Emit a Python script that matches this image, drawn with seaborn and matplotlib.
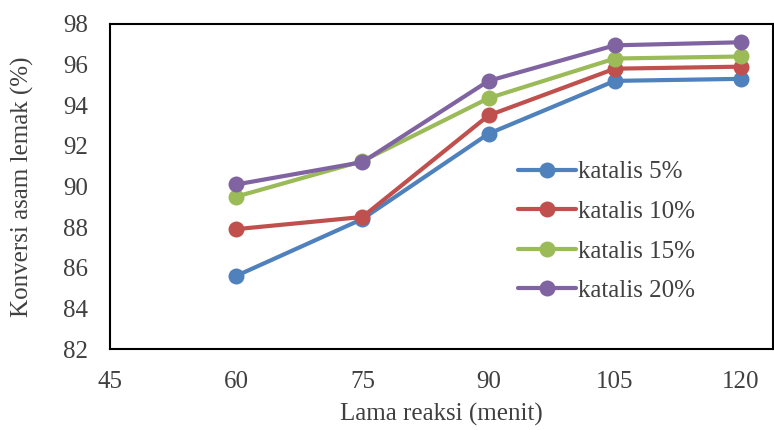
import matplotlib
matplotlib.use("Agg")
import matplotlib.pyplot as plt
import seaborn as sns
import pandas as pd

waktu = [60, 75, 90, 105, 120]
katalis_5 = [85.6, 88.4, 92.6, 95.2, 95.3]
katalis_10 = [87.9, 88.5, 93.5, 95.8, 95.9]
katalis_15 = [89.5, 91.25, 94.35, 96.3, 96.4]
katalis_20 = [90.1, 91.2, 95.2, 96.95, 97.1]
labels = ["katalis 5%", "katalis 10%", "katalis 15%", "katalis 20%"]
colors = ["#4F81BD", "#C0504D", "#9BBB59", "#8064A2"]
x_ticks = [45, 60, 75, 90, 105, 120]
y_ticks = [82, 84, 86, 88, 90, 92, 94, 96, 98]

rows = []
for lab, vals in zip(labels, [katalis_5, katalis_10, katalis_15, katalis_20]):
    for t, v in zip(waktu, vals):
        rows.append({"waktu": t, "konversi": v, "seri": lab})
df = pd.DataFrame(rows)

sns.set_style("white")
plt.rcParams["font.family"] = ["Liberation Serif", "DejaVu Serif"]

fig = plt.figure(figsize=(7.74, 4.30), dpi=100)
ax = fig.add_axes([110/774, 1-349/430, (773-110)/774, (349-24)/430])

sns.lineplot(data=df, x="waktu", y="konversi", hue="seri", hue_order=labels,
             palette=colors, marker="o", markersize=11.5, linewidth=3,
             markeredgewidth=0, ax=ax, legend=True)

ax.set_xlim(45, 123.8)
ax.set_ylim(82, 98)
ax.set_xticks(x_ticks)
ax.set_yticks(y_ticks)
ax.tick_params(axis="both", labelsize=18, colors="#404040", length=0)
ax.tick_params(axis="x", pad=16)
ax.tick_params(axis="y", pad=16)
ax.set_xlabel("Lama reaksi (menit)", fontsize=18, color="#404040", labelpad=7)
ax.set_ylabel("Konversi asam lemak (%)", fontsize=18, color="#404040", labelpad=21)
for s in ax.spines.values():
    s.set_color("black")
    s.set_linewidth(1.5)

leg = ax.legend(loc="upper left", bbox_to_anchor=(518/774, 1-161/430),
                bbox_transform=fig.transFigure, frameon=False, fontsize=18,
                handlelength=2.3, handletextpad=0.1, labelspacing=0.68,
                borderpad=0, borderaxespad=0)
for t in leg.get_texts():
    t.set_color("#404040")

fig.savefig("out.png", dpi=100)
